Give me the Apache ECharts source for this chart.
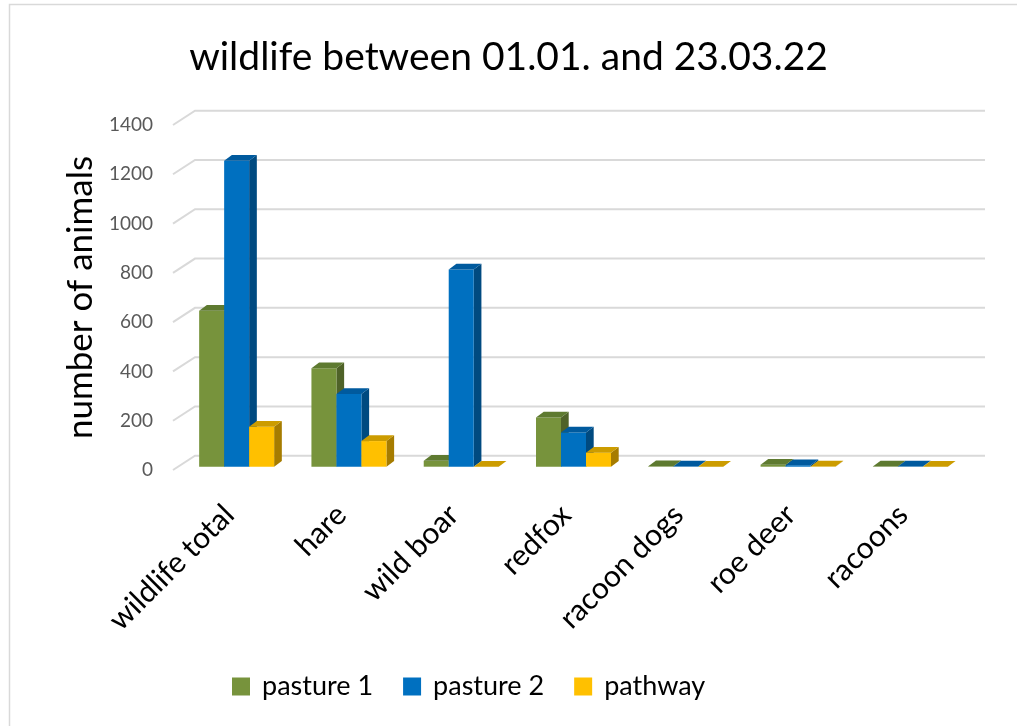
<!DOCTYPE html>
<html>
<head>
<meta charset="utf-8">
<script src="https://cdn.jsdelivr.net/npm/echarts@6/dist/echarts.min.js"></script>
<style>
  html, body { margin: 0; padding: 0; background: #ffffff; }
  #chart { width: 1017px; height: 726px; }
</style>
</head>
<body>
<div id="chart"></div>
<script>
// Animal counts per location
const categories = ['wildlife total', 'hare', 'wild boar', 'redfox', 'racoon dogs', 'roe deer', 'racoons'];
const pasture1 = [633, 400, 24, 200, 2, 8, 1];
const pasture2 = [1242, 295, 800, 139, 1, 6, 1];
const pathway = [162, 104, 0, 57, 0, 1, 0];
const seriesNames = ['pasture 1', 'pasture 2', 'pathway'];
const yTicks = [0, 200, 400, 600, 800, 1000, 1200, 1400];

const FONT = 'Lato, "Open Sans", sans-serif';

// Face colours of the pseudo-3D columns: front, top, side
const faceColors = [
  { front: '#77933c', top: '#5e7a30', side: '#4f6228' },
  { front: '#0070c0', top: '#005a9e', side: '#004a80' },
  { front: '#ffc000', top: '#cc9c00', side: '#a67c00' }
];

// Oblique projection offsets (px)
const BAR_DX = 7.5, BAR_DY = -3.3;     // bar plane behind the front edge
const DEPTH_DX = 7.7, DEPTH_DY = -5.7;  // column depth
const WALL_DX = 22, WALL_DY = -14.3;    // back wall behind the front edge
const BAR_FRACTION = 0.2226;            // column width relative to category band

function columnRenderer(idx) {
  const c = faceColors[idx];
  return function (params, api) {
    const ci = api.value(0);
    const v = api.value(1);
    const band = api.size([1, 0])[0];
    const bw = band * BAR_FRACTION;
    const base = api.coord([ci, 0]);
    const top = api.coord([ci, v]);
    const x0 = base[0] + BAR_DX + (idx - 1.5) * bw;
    const x1 = x0 + bw;
    const yb = base[1] + BAR_DY;
    const yt = top[1] + BAR_DY;
    return {
      type: 'group',
      children: [
        {
          type: 'polygon',
          shape: { points: [[x1, yt], [x1, yb], [x1 + DEPTH_DX, yb + DEPTH_DY], [x1 + DEPTH_DX, yt + DEPTH_DY]] },
          style: { fill: c.side }
        },
        {
          type: 'rect',
          shape: { x: x0, y: yt, width: bw, height: yb - yt },
          style: { fill: c.front }
        },
        {
          type: 'polygon',
          shape: { points: [[x0, yt], [x1, yt], [x1 + DEPTH_DX, yt + DEPTH_DY], [x0 + DEPTH_DX, yt + DEPTH_DY]] },
          style: { fill: c.top }
        }
      ]
    };
  };
}

// Side wall + back wall gridlines for each tick value
function wallRenderer(params, api) {
  const v = api.value(1);
  const band = api.size([1, 0])[0];
  const left = api.coord([0, v]);
  const right = api.coord([categories.length - 1, v]);
  const xl = left[0] - band / 2;
  const xr = right[0] + band / 2;
  const y = left[1];
  return {
    type: 'polyline',
    shape: { points: [[xl, y], [xl + WALL_DX, y + WALL_DY], [xr + WALL_DX + 4, y + WALL_DY]] },
    style: { stroke: '#d9d9d9', lineWidth: 2, fill: null }
  };
}

const chart = echarts.init(document.getElementById('chart'), null, { renderer: 'canvas' });

const seriesData = [pasture1, pasture2, pathway];

chart.setOption({
  animation: false,
  backgroundColor: '#ffffff',
  title: {
    text: 'wildlife between 01.01. and 23.03.22',
    left: 'center',
    top: 33,
    textStyle: { fontFamily: FONT, fontSize: 39, fontWeight: 'normal', color: '#000000' }
  },
  graphic: [{
    type: 'rect',
    shape: { x: 9.5, y: 4.5, width: 1100, height: 800 },
    style: { fill: null, stroke: '#d9d9d9', lineWidth: 1.5 },
    silent: true
  }],
  legend: {
    data: seriesNames,
    left: 227,
    top: 668,
    icon: 'rect',
    itemWidth: 18,
    itemHeight: 18,
    itemGap: 30,
    textStyle: { fontFamily: FONT, fontSize: 27, color: '#000000', padding: [0, 0, 0, 7] }
  },
  grid: { left: 173, right: 58, top: 125, bottom: 256 },
  xAxis: {
    type: 'category',
    data: categories,
    axisLine: { show: false },
    axisTick: { show: false },
    splitLine: { show: false },
    axisLabel: {
      rotate: 45,
      margin: 40,
      interval: 0,
      fontFamily: FONT,
      fontSize: 30,
      color: '#000000'
    }
  },
  yAxis: {
    type: 'value',
    min: 0,
    max: 1400,
    interval: 200,
    name: 'number of animals',
    nameLocation: 'middle',
    nameGap: 73,
    nameTextStyle: { fontFamily: FONT, fontSize: 35, color: '#000000' },
    axisLine: { show: false },
    axisTick: { show: false },
    splitLine: { show: false },
    axisLabel: {
      margin: 20,
      fontFamily: FONT,
      fontSize: 19,
      color: '#595959',
      formatter: function (v) { return String(v); }
    }
  },
  series: [
    {
      type: 'custom',
      name: 'walls',
      z: 1,
      silent: true,
      renderItem: wallRenderer,
      encode: { x: 0, y: 1 },
      data: yTicks.map(t => [0, t])
    }
  ].concat(seriesNames.map((name, i) => ({
    type: 'custom',
    name: name,
    z: 2 + i,
    itemStyle: { color: faceColors[i].front },
    renderItem: columnRenderer(i),
    encode: { x: 0, y: 1 },
    data: seriesData[i].map((v, ci) => [ci, v])
  })))
});
</script>
</body>
</html>
